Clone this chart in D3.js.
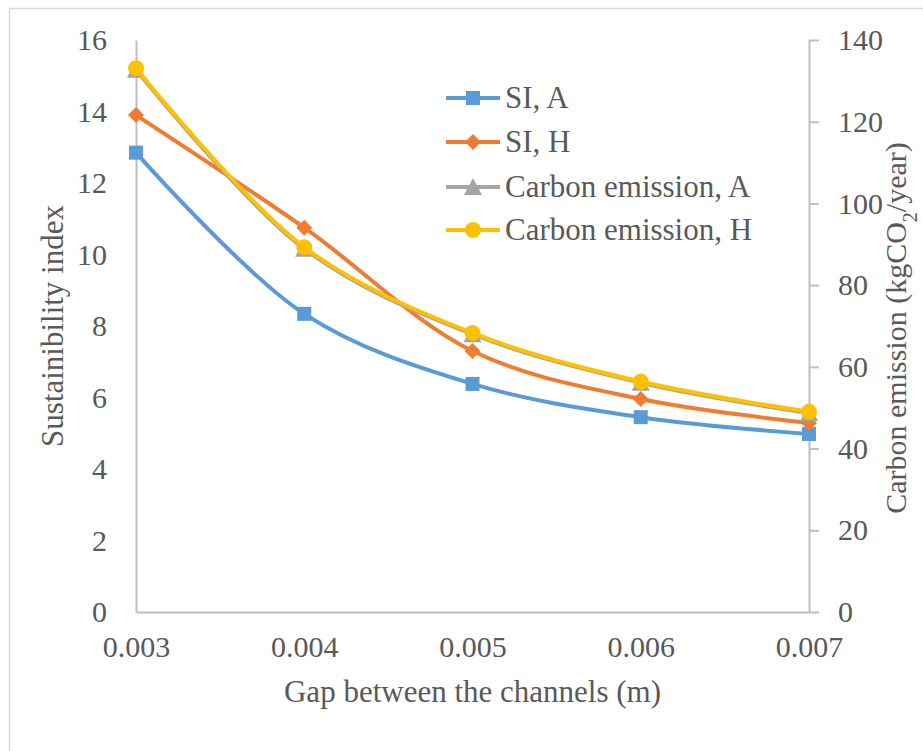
<!DOCTYPE html>
<html>
<head>
<meta charset="utf-8">
<script src="https://cdn.jsdelivr.net/npm/d3@7"></script>
</head>
<body style="margin:0; background:#ffffff">
<svg id="chart" width="923" height="751"></svg>
<script>
// Gap between the channels (m)
const gaps = [0.003, 0.004, 0.005, 0.006, 0.007];
const gapLabels = ["0.003", "0.004", "0.005", "0.006", "0.007"];

// Sustainability index (left axis)
const siA = [12.85, 8.34, 6.38, 5.45, 4.98];
const siH = [13.90, 10.75, 7.30, 5.96, 5.29];

// Carbon emission, kgCO2/year (right axis)
const carbonA = [132.7, 88.9, 68.0, 56.1, 48.7];
const carbonH = [133.1, 89.3, 68.3, 56.4, 49.0];

const leftTicks = [0, 2, 4, 6, 8, 10, 12, 14, 16];
const rightTicks = [0, 20, 40, 60, 80, 100, 120, 140];

const seriesNames = ["SI, A", "SI, H", "Carbon emission, A", "Carbon emission, H"];
const seriesColors = ["#5B9BD5", "#ED7D31", "#A5A5A5", "#FFC000"];
const seriesMarkers = ["square", "diamond", "triangle", "circle"];

const serif = '"Liberation Serif"';
const textColor = "#595959";
const svg = d3.select("#chart");

// outer chart frame
svg.append("rect")
  .attr("x", 9.5).attr("y", 8.5)
  .attr("width", 940).attr("height", 780)
  .attr("fill", "none").attr("stroke", "#d9d9d9").attr("stroke-width", 1.5);

const plot = { left: 136, right: 809, top: 40, bottom: 612 };

const x = d3.scalePoint().domain(gaps).range([plot.left, plot.right]);
const yL = d3.scaleLinear().domain([0, 16]).range([plot.bottom, plot.top]);
const yR = d3.scaleLinear().domain([0, 140]).range([plot.bottom, plot.top]);

const axisColor = "#bfbfbf";
const fontSize = 30;

function styleTicks(g) {
  g.attr("font-family", null);
  g.selectAll("text")
    .style("font-family", serif)
    .style("font-size", fontSize + "px")
    .style("fill", textColor);
}

// left axis (no tick marks)
const gL = svg.append("g").attr("transform", `translate(${plot.left},0)`)
  .call(d3.axisLeft(yL).tickValues(leftTicks).tickSize(0).tickPadding(29).tickFormat(d3.format("d")));
gL.select(".domain").attr("stroke", axisColor).attr("stroke-width", 2);
styleTicks(gL);

// right axis with outside tick marks
const gR = svg.append("g").attr("transform", `translate(${plot.right},0)`)
  .call(d3.axisRight(yR).tickValues(rightTicks).tickSize(10).tickSizeOuter(0).tickPadding(19).tickFormat(d3.format("d")));
gR.select(".domain").attr("stroke", axisColor).attr("stroke-width", 2);
gR.selectAll(".tick line").attr("stroke", axisColor).attr("stroke-width", 2);
styleTicks(gR);

// bottom axis
const gB = svg.append("g").attr("transform", `translate(0,${plot.bottom})`)
  .call(d3.axisBottom(x).tickSize(0).tickPadding(24).tickFormat((d, i) => gapLabels[i]));
gB.select(".domain").attr("stroke", axisColor).attr("stroke-width", 2);
styleTicks(gB);

function label(sel, size) {
  return sel.style("font-family", serif).style("font-size", size + "px").style("fill", textColor);
}

// axis titles
label(svg.append("text"), 31)
  .attr("x", (plot.left + plot.right) / 2).attr("y", 702)
  .attr("text-anchor", "middle")
  .text("Gap between the channels (m)");

label(svg.append("text"), 31)
  .attr("transform", `translate(63,${(plot.top + plot.bottom) / 2}) rotate(-90)`)
  .attr("text-anchor", "middle")
  .text("Sustainibility index");

const rt = label(svg.append("text"), 30)
  .attr("transform", `translate(906,${(plot.top + plot.bottom) / 2 + 2}) rotate(-90)`)
  .attr("text-anchor", "middle");
rt.append("tspan").text("Carbon emission (kgCO");
rt.append("tspan").attr("baseline-shift", "sub").style("font-size", "20px").text("2");
rt.append("tspan").text("/year)");

// markers
function drawMarker(g, type, cx, cy, color) {
  if (type === "square") {
    g.append("rect").attr("x", cx - 7).attr("y", cy - 7).attr("width", 14).attr("height", 14)
      .attr("fill", color);
  } else if (type === "diamond") {
    g.append("path").attr("d", `M${cx},${cy - 8}L${cx + 8},${cy}L${cx},${cy + 8}L${cx - 8},${cy}Z`)
      .attr("fill", color);
  } else if (type === "triangle") {
    g.append("path").attr("d", `M${cx},${cy - 9}L${cx + 9},${cy + 8}L${cx - 9},${cy + 8}Z`)
      .attr("fill", color);
  } else {
    g.append("circle").attr("cx", cx).attr("cy", cy).attr("r", 8).attr("fill", color);
  }
}

const seriesData = [
  { values: siA, scale: yL },
  { values: siH, scale: yL },
  { values: carbonA, scale: yR },
  { values: carbonH, scale: yR }
];

const curve = d3.curveCatmullRom.alpha(0.5);

seriesData.forEach((s, i) => {
  const pts = s.values.map((v, j) => [x(gaps[j]), s.scale(v)]);
  const g = svg.append("g");
  g.append("path")
    .attr("d", d3.line().curve(curve)(pts))
    .attr("fill", "none").attr("stroke", seriesColors[i]).attr("stroke-width", 4)
    .attr("stroke-linejoin", "round").attr("stroke-linecap", "round");
  pts.forEach(p => drawMarker(g, seriesMarkers[i], p[0], p[1], seriesColors[i]));
});

// legend
const legendRows = [98, 142, 187, 230];
seriesNames.forEach((name, i) => {
  const g = svg.append("g");
  const cy = legendRows[i];
  g.append("line").attr("x1", 446).attr("x2", 500).attr("y1", cy).attr("y2", cy)
    .attr("stroke", seriesColors[i]).attr("stroke-width", 4);
  drawMarker(g, seriesMarkers[i], 473, cy, seriesColors[i]);
  label(g.append("text"), 31).attr("x", 505).attr("y", cy + 10).text(name);
});
</script>
</body>
</html>
